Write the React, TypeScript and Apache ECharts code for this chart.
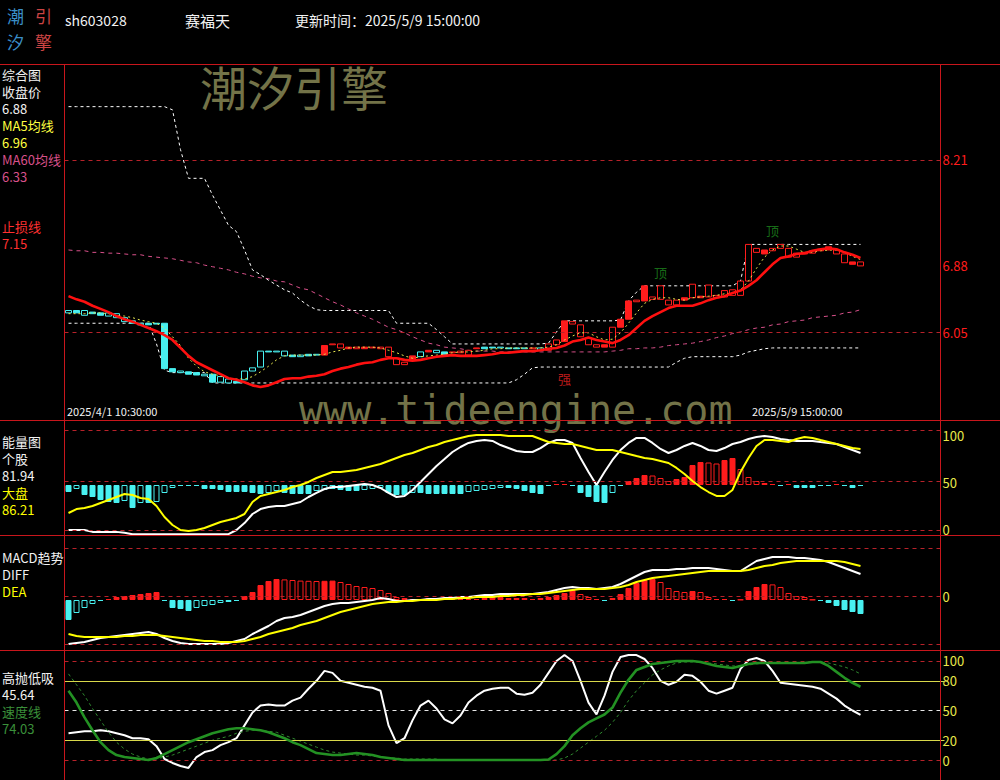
import React, { useEffect, useRef } from "react";
import * as echarts from "echarts";

// ---------------- data ----------------
const SLOT_COUNT = 110; // 100 bars + empty room on the right
const slotLabels = Array.from({ length: SLOT_COUNT }, (_, i) => String(i));

const candleOpen = [6.29,6.32,6.26,6.30,6.29,6.25,6.23,6.18,6.19,6.14, 6.16,6.16,6.16,5.59,5.54,5.55,5.54,5.50,5.52,5.42, 5.41,5.43,5.45,5.56,5.61,5.81,5.80,5.75,5.76,5.74, 5.77,5.76,5.76,5.90,5.90,5.84,5.86,5.84,5.86,5.86, 5.86,5.72,5.67,5.71,5.74,5.80,5.79,5.80,5.80,5.81, 5.82,5.84,5.86,5.86,5.85,5.85,5.85,5.84,5.85,5.82, 5.90,5.95,5.93,6.18,6.14,5.98,5.89,5.86,6.11,6.11, 6.21,6.45,6.44,6.49,6.63,6.45,6.45,6.45,6.65,6.48, 6.64,6.51,6.57,6.58,6.69,7.15,7.10,7.03,7.10,7.15, 7.10,7.04,7.03,7.07,7.07,7.08,7.08,7.03,6.90,6.93];
const candleClose = [6.32,6.29,6.32,6.28,6.26,6.29,6.28,6.23,6.16,6.16, 6.14,6.15,5.59,5.55,5.56,5.52,5.51,5.52,5.42,5.49, 5.46,5.41,5.56,5.60,5.81,5.80,5.81,5.81,5.74,5.76, 5.75,5.77,5.88,5.89,5.85,5.86,5.84,5.86,5.85,5.84, 5.74,5.64,5.64,5.75,5.80,5.82,5.82,5.77,5.79,5.79, 5.76,5.85,5.84,5.85,5.86,5.84,5.84,5.85,5.84,5.85, 5.82,5.89,6.19,6.15,5.99,5.89,5.86,5.89,5.86,6.21, 6.44,6.43,6.63,6.46,6.46,6.39,6.39,6.48,6.48,6.50, 6.49,6.48,6.49,6.51,6.51,6.69,7.05,7.08,7.07,7.10, 6.99,6.99,7.05,7.04,7.09,7.12,7.03,6.92,6.93,6.88];
// 1 = strong (red) state, 0 = weak (cyan) state
const candleTrend = [0,0,0,0,0,0,0,0,0,0, 0,0,0,0,0,0,0,0,0,0, 0,0,0,0,0,0,0,0,0,0, 0,0,1,1,1,1,1,1,1,1, 1,1,1,1,0,1,0,0,1,1, 1,1,0,0,0,0,0,0,1,0, 1,1,1,1,1,1,1,1,1,1, 1,1,1,1,1,1,1,1,1,1, 1,1,1,1,1,1,1,1,1,1, 1,1,1,1,1,1,1,1,1,1];

const ma5 = [6.28,6.28,6.28,6.29,6.29,6.28,6.26,6.25,6.23,6.20, 6.18,6.16,6.10,5.99,5.88,5.72,5.62,5.55,5.52,5.50, 5.47,5.46,5.46,5.49,5.55,5.62,5.70,5.75,5.76,5.76, 5.76,5.76,5.77,5.80,5.82,5.85,5.86,5.86,5.86,5.85, 5.82,5.79,5.75,5.72,5.74,5.75,5.76,5.77,5.79,5.80, 5.80,5.81,5.82,5.84,5.84,5.85,5.85,5.85,5.85,5.85, 5.86,5.89,5.95,6.00,6.04,6.04,5.99,5.95,5.96,6.04, 6.16,6.29,6.41,6.46,6.48,6.48,6.46,6.45,6.48,6.49, 6.50,6.51,6.53,6.54,6.58,6.69,6.85,6.99,7.08,7.13, 7.13,7.09,7.05,7.05,7.07,7.08,7.08,7.05,7.00,6.96];
const ma60 = [7.08,7.07,7.07,7.05,7.05,7.04,7.04,7.03,7.02,7.02, 7.00,6.99,6.98,6.97,6.95,6.93,6.92,6.89,6.87,6.85, 6.83,6.80,6.78,6.75,6.73,6.72,6.69,6.68,6.64,6.60, 6.58,6.53,6.48,6.43,6.39,6.34,6.29,6.25,6.21,6.16, 6.11,6.08,6.04,5.99,5.95,5.91,5.89,5.86,5.85,5.84, 5.82,5.81,5.81,5.81,5.80,5.80,5.80,5.80,5.80,5.80, 5.80,5.80,5.80,5.80,5.80,5.80,5.80,5.80,5.81,5.82, 5.84,5.84,5.85,5.85,5.86,5.88,5.89,5.90,5.91,5.93, 5.95,5.98,6.00,6.03,6.05,6.08,6.10,6.11,6.14,6.15, 6.18,6.19,6.20,6.23,6.24,6.25,6.26,6.29,6.30,6.33];
const stopLine = [8.88,8.88,8.88,8.88,8.88,8.88,8.88,8.88,8.88,8.88, 8.88,8.88,8.88,8.84,8.34,7.98,7.98,7.98,7.77,7.58, 7.39,7.31,7.08,6.83,6.77,6.70,6.64,6.58,6.54,6.45, 6.38,6.33,6.32,6.32,6.32,6.32,6.32,6.32,6.32,6.32, 6.32,6.16,6.16,6.16,6.16,6.16,6.08,5.99,5.90,5.90, 5.90,5.90,5.90,5.90,5.90,5.90,5.90,5.90,5.90,5.90, 5.91,6.05,6.19,6.19,6.19,6.19,6.19,6.19,6.19,6.20, 6.44,6.55,6.63,6.63,6.63,6.63,6.63,6.63,6.63,6.63, 6.63,6.63,6.63,6.63,6.69,7.15,7.15,7.15,7.15,7.15, 7.15,7.15,7.15,7.15,7.15,7.15,7.15,7.15,7.15,7.15];
const lowBand = [6.16,6.16,6.16,6.16,6.16,6.16,6.16,6.16,6.16,6.16, 6.16,5.90,5.57,5.54,5.54,5.54,5.54,5.54,5.41,5.41, 5.41,5.41,5.41,5.41,5.41,5.41,5.41,5.41,5.41,5.41, 5.41,5.41,5.41,5.41,5.41,5.41,5.41,5.41,5.41,5.41, 5.41,5.41,5.41,5.41,5.41,5.41,5.41,5.41,5.41,5.41, 5.41,5.41,5.41,5.41,5.41,5.41,5.45,5.52,5.60,5.61, 5.61,5.61,5.61,5.61,5.61,5.61,5.61,5.61,5.61,5.61, 5.61,5.61,5.61,5.61,5.61,5.61,5.67,5.72,5.74,5.74, 5.74,5.74,5.74,5.74,5.76,5.80,5.82,5.84,5.85,5.85, 5.85,5.85,5.85,5.85,5.85,5.85,5.85,5.85,5.85,5.85];
const trendLine = [6.50,6.46,6.43,6.38,6.34,6.30,6.25,6.21,6.18,6.14, 6.10,6.06,6.01,5.95,5.85,5.75,5.67,5.62,5.57,5.52, 5.47,5.45,5.42,5.38,5.36,5.38,5.42,5.46,5.47,5.47, 5.49,5.50,5.52,5.56,5.59,5.61,5.64,5.66,5.67,5.70, 5.72,5.72,5.70,5.69,5.70,5.72,5.74,5.75,5.76,5.75, 5.75,5.75,5.76,5.77,5.79,5.79,5.80,5.81,5.81,5.82, 5.84,5.85,5.88,5.93,5.95,5.98,5.95,5.93,5.91,5.95, 6.01,6.10,6.19,6.25,6.30,6.35,6.38,6.38,6.38,6.41, 6.45,6.48,6.50,6.54,6.57,6.63,6.70,6.80,6.90,6.98, 7.00,7.03,7.04,7.07,7.09,7.10,7.09,7.05,7.02,6.98];
const topSignalIdx = [74, 88];
const topSignalPrice = [6.80, 7.32];
const strongSignalIdx = [62];
const strongSignalPrice = [5.47];

const energyStock = [0,0,0,-2,-2,-2,-2,-3,-4.5,-4.5, -4.5,-4.5,-4.5,-4.5,-4.5,-4.5,-4.5,-4.5,-4.5,-4.5, -4.5,0,7.4,17.0,22.3,24.5,25.5,25.5,27.7,29.8, 35.1,39.4,43.6,45.7,45.7,46.8,47.9,48.9,47.9,44.7, 39.4,35.1,36.2,42.6,51.1,59.6,68.1,75.5,83.0,88.3, 92.6,94.7,95.7,94.7,90.4,87.2,84.0,83.0,83.0,87.2, 92.6,95.7,95.7,92.6,76.6,61.7,47.9,61.7,74.5,85.1, 92.6,97.9,97.9,92.6,86.2,81.9,85.1,89.4,92.6,89.4, 85.1,84.0,87.2,91.5,93.6,96.8,98.9,100.0,98.9,96.8, 95.7,94.7,94.7,94.7,93.6,92.6,91.5,88.3,85.1,81.94];
const energyMarket = [18.1,22.3,23.4,25.5,28.7,31.9,35.1,38.3,37.2,34.0, 33.0,25.5,13.8,5.3,0,-1.1,0,2.1,5.3,8.5, 10.6,12.8,17.0,29.8,36.2,38.3,40.4,42.6,45.7,47.9, 51.1,55.3,58.5,61.7,61.7,62.8,63.8,66.0,68.1,70.2, 73.4,76.6,79.8,81.9,85.1,88.3,90.4,93.6,95.7,97.9, 100,101.1,101.1,101.1,101.1,100,100,100,100,96.8, 93.6,92.6,91.5,91.5,89.4,87.2,85.1,85.1,85.1,83.0, 80.9,78.7,76.6,75.5,73.4,71.3,66.0,59.6,52.1,45.7, 40.4,36.2,36.2,42.6,61.7,76.6,89.4,95.7,95.7,94.7, 93.6,96.8,98.9,97.9,95.7,93.6,91.5,89.4,87.2,86.21];
const energyBars = [-7,-4,-10,-12,-15,-17,-18,-16,-23,-18, -18,-17,-8,-3,-1,-1,-1,-4,-4,-5, -7,-7,-7,-8,-9,-8,-6,-8,-9,-9, -9,-6,-5,-4,-5,-6,-6,-5,-4,-3, -8,-10,-10,-8,-8,-9,-9,-9,-9,-9, -7,-6,-5,-4,-3,-3,-4,-6,-8,-9, -1,1,1,-1,-8,-12,-17,-18,-8,-1, 4,7,10,9.5,7,4,6,8,20,23, 22.5,21.5,25,27,16,8,4,2,1,-1, 1,-3,-3,-3,-1,-1,1,-1,-3,-1];

const macdDiff = [-0.240,-0.235,-0.230,-0.220,-0.210,-0.205,-0.200,-0.195,-0.190,-0.185, -0.180,-0.190,-0.210,-0.225,-0.235,-0.240,-0.240,-0.240,-0.240,-0.240, -0.235,-0.225,-0.215,-0.190,-0.170,-0.150,-0.125,-0.110,-0.105,-0.095, -0.080,-0.065,-0.050,-0.040,-0.035,-0.035,-0.030,-0.025,-0.020,-0.010, -0.015,-0.025,-0.025,-0.020,-0.020,-0.015,-0.015,-0.010,-0.010,-0.005, -0.005,0,0.005,0.005,0.010,0.010,0.010,0.010,0.010,0.015, 0.020,0.030,0.040,0.045,0.040,0.040,0.035,0.040,0.045,0.060, 0.080,0.100,0.120,0.130,0.130,0.130,0.135,0.135,0.140,0.140, 0.140,0.135,0.130,0.125,0.125,0.150,0.175,0.185,0.195,0.195, 0.195,0.190,0.190,0.185,0.180,0.170,0.155,0.140,0.125,0.110];
const macdDea = [-0.190,-0.200,-0.205,-0.205,-0.205,-0.205,-0.205,-0.200,-0.200,-0.195, -0.195,-0.195,-0.200,-0.205,-0.210,-0.215,-0.220,-0.225,-0.225,-0.230, -0.230,-0.230,-0.225,-0.215,-0.205,-0.190,-0.180,-0.170,-0.160,-0.145, -0.135,-0.125,-0.110,-0.095,-0.080,-0.070,-0.060,-0.050,-0.040,-0.035, -0.030,-0.030,-0.025,-0.025,-0.020,-0.020,-0.020,-0.015,-0.015,-0.010, -0.010,-0.005,-0.005,-0.005,0,0,0.005,0.005,0.010,0.010, 0.015,0.020,0.025,0.030,0.035,0.035,0.035,0.035,0.040,0.045, 0.055,0.070,0.080,0.090,0.095,0.100,0.105,0.110,0.115,0.120, 0.125,0.125,0.125,0.125,0.125,0.130,0.140,0.150,0.155,0.165, 0.170,0.175,0.175,0.175,0.175,0.175,0.175,0.170,0.160,0.150];
const macdBars = [-0.100,-0.065,-0.040,-0.020,-0.005,0.005,0.015,0.020,0.025,0.030, 0.035,0.040,-0.005,-0.040,-0.045,-0.055,-0.040,-0.030,-0.025,-0.015, -0.010,-0.005,0.020,0.040,0.075,0.095,0.105,0.103,0.100,0.097, 0.096,0.095,0.096,0.097,0.090,0.080,0.070,0.065,0.060,0.050, 0.035,0.015,0.010,0.005,0.005,0.010,0.010,0.010,0.005,0.005, 0.005,0.005,0.010,0.015,0.015,0.010,0.010,0.010,0.005,0.010, 0.015,0.025,0.035,0.050,0.030,0.015,0.005,-0.005,0.010,0.030, 0.060,0.085,0.100,0.105,0.090,0.060,0.045,0.040,0.045,0.040, 0.015,0.005,0.005,-0.005,0.002,0.045,0.065,0.080,0.078,0.065, 0.035,0.020,0.015,0.002,-0.005,-0.015,-0.030,-0.050,-0.060,-0.070];

const hiLo = [27,28,29,29,30,29,27,25,22,22, 21,14,1,-3,-6,-8,3,8,10,15, 18,22,35,48,55,56,55,55,60,63, 72,80,90,88,80,78,76,74,73,70, 35,17,22,40,55,60,52,41,37,45, 58,65,70,72,73,73,67,66,68,76, 88,100,106,100,80,58,46,65,89,104, 106,106,102,93,80,76,79,86,85,79, 70,67,70,73,92,101,103,100,90,78, 77,76,75,74,72,67,62,55,50,45.64];
const speedLine = [70,58,43,30,18,10,5,3,2,1, 0,2,6,10,14,18,21,24,27,29, 31,32,32,31,30,28,25,22,18,15, 11,7,6,5,5,6,7,6,5,3, 2,1,0,0,0,0,0,0,0,0, 0,0,0,0,0,0,0,0,0,0, 0.5,6,14,25,32,38,42,46,53,68, 81,91,94,97,98,99,100,100,100,99, 97,95,94,93,95,97,98,98,98,98, 98,98,98,99,99,95,89,83,78,74.03];
const speedSignal = [87,76,65,52,40,28,18,11,6,3, 1,1,3,5,8,11,14,17,20,22, 24,27,29,30,30,29,28,25,22,19, 16,13,10,8,7,6,5,5,4,3, 2,2,1,1,1,1,1,0,0,0, 0,0,0,0,0,0,0,0,0,0, 0,0,2,6,12,18,24,30,38,48, 60,70,78,86,91,95,98,99,99,99, 98,97,96,95,95,96,97,98,98,98, 98,98,98,99,99,98,96,94,91,87];

// axis tick labels and reference levels
const priceTicks = [8.21, 6.88, 6.05];
const priceGuides = [8.21, 6.05];
const energyTicks = [0, 50, 100];
const energyGuides = [106.4, 52.1, 0];
const macdTicks = [0];
const macdGuides = [0.245, 0, -0.245];
const hiLoTicks = [0, 20, 50, 80, 100];
const hiLoRedGuides = [100, 0];
const hiLoYellowGuides = [80, 20];
const hiLoWhiteGuides = [50];

// ---------------- styles ----------------
const FONT = '"Noto Sans CJK SC", "Noto Sans", sans-serif';
const MONO = '"DejaVu Sans Mono", monospace';
const RED = "#ff1c1c";
const CYAN = "#48f0f0";
const FRAME = "#c8161c";
const DASH = "#b8222a";
const WHITE = "#f2f2f2";
const YELLOW = "#ffff00";
const LABEL_YELLOW = "#e8e84a";
const PINK = "#d8508a";
const GREEN = "#239123";

const GRID_LEFT = 64.5;
const GRID_W = 880;

function lineSeries(data, xi, yi, color, width, type: any = "solid", z = 3) {
  return {
    type: "line", xAxisIndex: xi, yAxisIndex: yi, data, showSymbol: false, symbol: "none",
    lineStyle: { color, width, type }, z, silent: true, animation: false,
  };
}

function guideSeries(xi, yi, items) {
  return {
    type: "line", xAxisIndex: xi, yAxisIndex: yi, data: [], z: 1, silent: true,
    markLine: {
      silent: true, symbol: ["none", "none"], label: { show: false }, animation: false,
      data: items,
    },
  };
}

function histBars(values, xi, yi) {
  return {
    type: "bar", xAxisIndex: xi, yAxisIndex: yi, barWidth: 6, z: 2, silent: true,
    data: values.map((v, i) => {
      const prev = i > 0 ? values[i - 1] : 0;
      const grow = Math.abs(v) >= Math.abs(prev) || Math.sign(v) !== Math.sign(prev);
      const c = v >= 0 ? RED : CYAN;
      return { value: v, itemStyle: { color: grow ? c : "#000", borderColor: c, borderWidth: 1 } };
    }),
  };
}

function candleData(trend) {
  return candleOpen.map((o, i) => {
    const c = candleClose[i];
    return candleTrend[i] === trend ? [o, c, Math.min(o, c), Math.max(o, c)] : ["-", "-", "-", "-"];
  });
}

function text(x, y, s, fill, size = 13, family = FONT, extra = {}) {
  return {
    type: "text", x, y, z: 60, silent: true,
    style: { text: s, fill, fontSize: size, fontFamily: family, align: "left", verticalAlign: "middle", lineHeight: size, ...extra },
  };
}

function hline(y, x1 = 0, x2 = 1000) {
  return { type: "line", z: 50, silent: true, shape: { x1, y1: y, x2, y2: y }, style: { stroke: FRAME, lineWidth: 1 } };
}
function vline(x, y1, y2) {
  return { type: "line", z: 50, silent: true, shape: { x1: x, y1, x2: x, y2 }, style: { stroke: FRAME, lineWidth: 1 } };
}

function buildOption() {
  const grids = [
    { left: GRID_LEFT, top: 65, width: GRID_W, height: 355 },
    { left: GRID_LEFT, top: 420, width: GRID_W, height: 115 },
    { left: GRID_LEFT, top: 535, width: GRID_W, height: 115 },
    { left: GRID_LEFT, top: 650, width: GRID_W, height: 130 },
  ];
  const xAxis = grids.map((_, g) => ({
    type: "category", gridIndex: g, data: slotLabels, show: false, boundaryGap: true,
  }));
  const labelAxis = (g, min, max, ticks, color, fmt) => ({
    type: "value", gridIndex: g, min, max, position: "right",
    axisLine: { show: false }, axisTick: { show: false }, splitLine: { show: false },
    axisLabel: { customValues: ticks, color, fontSize: 13, fontFamily: FONT, margin: -2, formatter: fmt },
  });
  const hiddenAxis = (g, min, max) => ({
    type: "value", gridIndex: g, min, max, show: false, splitLine: { show: false },
  });
  const yAxis = [
    labelAxis(0, 4.9449, 9.403, priceTicks, RED, (v) => Number(v).toFixed(2)),
    labelAxis(1, -5.32, 117.02, energyTicks, LABEL_YELLOW, (v) => String(Math.round(v))),
    hiddenAxis(1, -50, 65),
    labelAxis(2, -0.27, 0.305, macdTicks, LABEL_YELLOW, (v) => String(Math.round(v))),
    hiddenAxis(2, -0.25, 0.325),
    labelAxis(3, -20.2, 111.11, hiLoTicks, LABEL_YELLOW, (v) => String(Math.round(v))),
  ];

  const dashRed = { color: DASH, type: [4, 4], width: 1 };

  const series: any[] = [
    // ---- main panel ----
    guideSeries(0, 0, priceGuides.map((v) => ({ yAxis: v, lineStyle: dashRed }))),
    lineSeries(ma60, 0, 0, PINK, 1, [4, 4], 2),
    lineSeries(stopLine, 0, 0, "#ffffff", 1, [3, 3], 2),
    lineSeries(lowBand, 0, 0, "#ffffff", 1, [3, 3], 2),
    {
      type: "candlestick", xAxisIndex: 0, yAxisIndex: 0, barWidth: 7, z: 3, silent: true,
      data: candleData(1),
      itemStyle: { color: RED, color0: "#000", borderColor: RED, borderColor0: RED, borderWidth: 1 },
    },
    {
      type: "candlestick", xAxisIndex: 0, yAxisIndex: 0, barWidth: 7, z: 3, silent: true,
      data: candleData(0),
      itemStyle: { color: "#000", color0: CYAN, borderColor: CYAN, borderColor0: CYAN, borderWidth: 1 },
    },
    lineSeries(ma5, 0, 0, "#e8e850", 1, [2, 3], 4),
    lineSeries(trendLine, 0, 0, "#ff1010", 2.6, "solid", 5),
    {
      type: "scatter", xAxisIndex: 0, yAxisIndex: 0, symbolSize: 1, z: 6, silent: true,
      itemStyle: { color: "rgba(0,0,0,0)" },
      data: topSignalIdx.map((x, k) => [x, topSignalPrice[k]]),
      label: { show: true, position: "inside", formatter: "顶", color: "#1e8a1e", fontSize: 13, fontFamily: FONT, lineHeight: 13 },
    },
    {
      type: "scatter", xAxisIndex: 0, yAxisIndex: 0, symbolSize: 1, z: 6, silent: true,
      itemStyle: { color: "rgba(0,0,0,0)" },
      data: strongSignalIdx.map((x, k) => [x, strongSignalPrice[k]]),
      label: { show: true, position: "inside", formatter: "强", color: "#e82020", fontSize: 13, fontFamily: FONT, lineHeight: 13 },
    },
    // ---- energy panel ----
    guideSeries(1, 1, energyGuides.map((v) => ({ yAxis: v, lineStyle: dashRed }))),
    histBars(energyBars, 1, 2),
    lineSeries(energyStock, 1, 1, "#ffffff", 2, "solid", 4),
    lineSeries(energyMarket, 1, 1, YELLOW, 2, "solid", 5),
    // ---- MACD panel ----
    guideSeries(2, 3, macdGuides.map((v) => ({ yAxis: v, lineStyle: dashRed }))),
    histBars(macdBars, 2, 4),
    lineSeries(macdDiff, 2, 3, "#ffffff", 2, "solid", 4),
    lineSeries(macdDea, 2, 3, YELLOW, 2, "solid", 5),
    // ---- high/low panel ----
    guideSeries(3, 5, [
      ...hiLoRedGuides.map((v) => ({ yAxis: v, lineStyle: dashRed })),
      ...hiLoYellowGuides.map((v) => ({ yAxis: v, lineStyle: { color: "#d8d84a", type: "solid", width: 1 } })),
      ...hiLoWhiteGuides.map((v) => ({ yAxis: v, lineStyle: { color: "#e8e8e8", type: [4, 4], width: 1 } })),
    ]),
    lineSeries(hiLo, 3, 5, "#ffffff", 2, "solid", 4),
    lineSeries(speedSignal, 3, 5, "#2f8a2f", 1, [3, 3], 4),
    lineSeries(speedLine, 3, 5, GREEN, 2.6, "solid", 5),
  ];

  const leftLabels = [
    ["综合图", 74, WHITE], ["收盘价", 91, WHITE], ["6.88", 108, WHITE],
    ["MA5均线", 125, "#ffff40"], ["6.96", 142, "#ffff40"],
    ["MA60均线", 159, PINK], ["6.33", 176, PINK],
    ["止损线", 226, "#ff3030"], ["7.15", 243, "#ff3030"],
    ["能量图", 441, WHITE], ["个股", 458, WHITE], ["81.94", 475, WHITE],
    ["大盘", 492, YELLOW], ["86.21", 509, YELLOW],
    ["MACD趋势", 557, WHITE], ["DIFF", 574, WHITE], ["DEA", 591, YELLOW],
    ["高抛低吸", 677, WHITE], ["45.64", 694, WHITE], ["速度线", 711, "#3a903a"], ["74.03", 728, "#3a903a"],
  ];

  const graphic: any[] = [
    // watermarks
    { type: "text", x: 200, y: 85, z: 0, silent: true,
      style: { text: "潮汐引擎", fill: "#737348", fontSize: 47, fontFamily: FONT, verticalAlign: "middle", lineHeight: 47 } },
    { type: "text", x: 299, y: 410, z: 0, silent: true,
      style: { text: "www.tideengine.com", fill: "#737348", fontSize: 40, fontFamily: MONO, verticalAlign: "middle", lineHeight: 32 } },
    // logo
    text(7, 15, "潮", "#3a8ec8", 17), text(35, 15, "引", "#cc4444", 17),
    text(7, 41, "汐", "#3a8ec8", 17), text(35, 41, "擎", "#cc4444", 17),
    // header
    text(65, 20, "sh603028", WHITE, 14),
    text(185, 20, "赛福天", WHITE, 15),
    text(295, 20, "更新时间：2025/5/9 15:00:00", WHITE, 14),
    // dates
    text(67, 411, "2025/4/1 10:30:00", WHITE, 11),
    text(752, 411, "2025/5/9 15:00:00", WHITE, 11),
    // frame
    hline(64.5), hline(420.5), hline(535.5), hline(650.5),
    vline(64.5, 64.5, 780), vline(940.5, 64.5, 780),
    ...leftLabels.map(([s, y, c]) => text(2, y as number, s as string, c as string, 13)),
  ];

  return {
    backgroundColor: "#000",
    animation: false,
    grid: grids,
    xAxis,
    yAxis,
    series,
    graphic,
  };
}

export default function App() {
  const ref = useRef<HTMLDivElement>(null);
  useEffect(() => {
    document.body.style.margin = "0";
    document.body.style.background = "#000";
    const chart = echarts.init(ref.current as HTMLDivElement, null, { renderer: "svg" });
    chart.setOption(buildOption() as any);
    return () => chart.dispose();
  }, []);
  return <div ref={ref} style={{ width: 1000, height: 780, background: "#000" }} />;
}
